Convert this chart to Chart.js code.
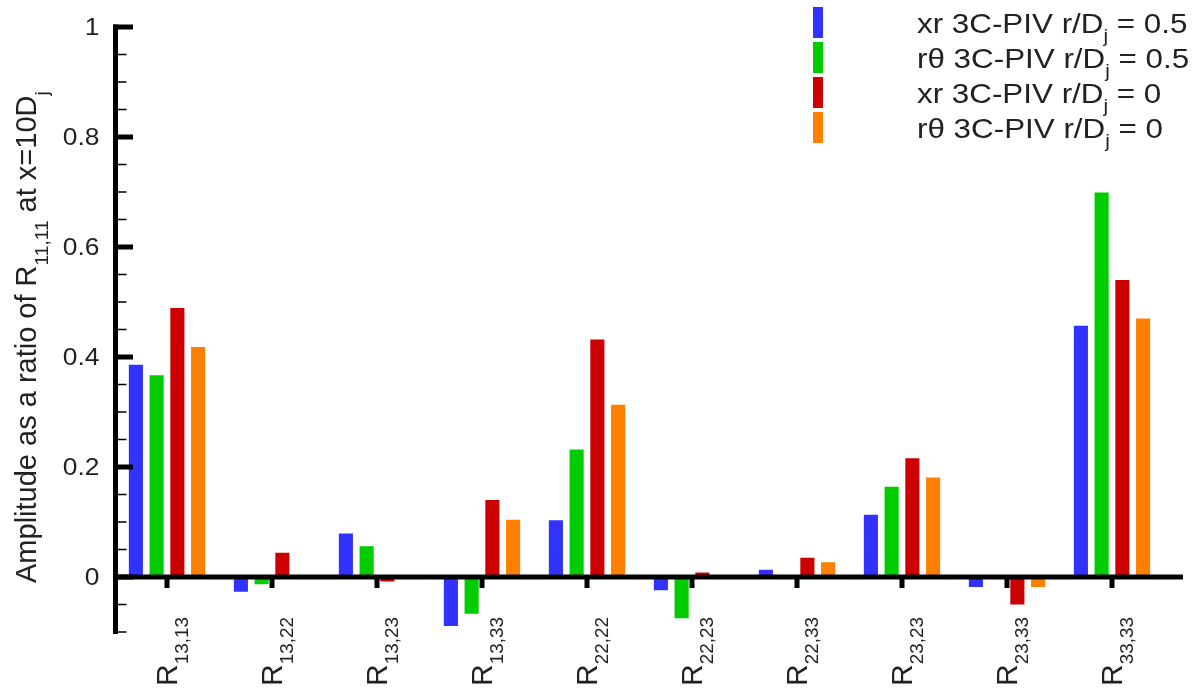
<!DOCTYPE html>
<html>
<head>
<meta charset="utf-8">
<script src="https://cdn.jsdelivr.net/npm/chart.js@4.4.0/dist/chart.umd.min.js"></script>
<style>
  html, body { margin: 0; padding: 0; background: #fff; }
</style>
</head>
<body>
<canvas id="barChart" width="1202" height="691"></canvas>
<script>
// Reynolds stress components (x axis)
const components = ['R_{13,13}', 'R_{13,22}', 'R_{13,23}', 'R_{13,33}', 'R_{22,22}',
                    'R_{22,23}', 'R_{22,33}', 'R_{23,23}', 'R_{23,33}', 'R_{33,33}'];

const seriesNames = ['xr 3C-PIV r/D_{j} = 0.5', 'rθ 3C-PIV r/D_{j} = 0.5',
                     'xr 3C-PIV r/D_{j} = 0', 'rθ 3C-PIV r/D_{j} = 0'];
const seriesColors = ['#3232ff', '#00cc00', '#cc0000', '#ff8000'];

// amplitudes
const xrHalf   = [0.386, -0.027,  0.079, -0.089, 0.103, -0.024, 0.013, 0.113, -0.018, 0.457];
const rthHalf  = [0.367, -0.013,  0.056, -0.067, 0.232, -0.075, null,  0.164, null,   0.699];
const xrZero   = [0.489,  0.044, -0.008,  0.140, 0.432,  0.008, 0.035, 0.216, -0.050, 0.540];
const rthZero  = [0.418,  null,   null,   0.104, 0.313,  null,  0.027, 0.181, -0.018, 0.470];

const yTickValues = [0, 0.2, 0.4, 0.6, 0.8, 1];
const yTickLabels = ['0', '0.2', '0.4', '0.6', '0.8', '1'];
const yTitle = 'Amplitude as a ratio of R_{11,11} at x=10D_{j}';

const FONT = '"Liberation Sans", Arial, Helvetica, sans-serif';

// draw text with _{...} subscripts, returns width
function drawRich(ctx, text, x, y, size, subScale, drop) {
    const parts = text.split(/_\{([^}]*)\}/);
    let cx = x;
    parts.forEach((p, i) => {
        const sub = i % 2 === 1;
        ctx.font = (sub ? size * subScale : size) + 'px ' + FONT;
        ctx.fillText(p, cx, y + (sub ? drop : 0));
        cx += ctx.measureText(p).width;
    });
    return cx - x;
}

const axesPlugin = {
    id: 'axesPlugin',
    afterDatasetsDraw(chart) {
        const ctx = chart.ctx;
        const ys = chart.scales.y;
        const xs = chart.scales.x;
        const area = chart.chartArea;
        const y0 = ys.getPixelForValue(0);
        const ax = area.left + 1;
        ctx.save();
        ctx.fillStyle = '#000';

        // y axis line
        const yTop = ys.getPixelForValue(1) - 2.5;
        const yBot = ys.getPixelForValue(-0.1) + 2;
        ctx.fillRect(ax - 2.5, yTop, 5, yBot - yTop);

        // minor ticks every 0.05
        for (let k = -2; k <= 20; k++) {
            if (k >= 0 && k % 4 === 0) continue;
            const py = ys.getPixelForValue(k * 0.05);
            ctx.fillRect(ax + 2, py - 0.75, 9, 1.5);
        }
        // major ticks + labels
        ctx.textAlign = 'right';
        ctx.textBaseline = 'middle';
        ctx.font = '24px ' + FONT;
        yTickValues.forEach((v, i) => {
            const py = ys.getPixelForValue(v);
            ctx.fillStyle = '#000';
            ctx.fillRect(ax - 2.5, py - 2.5, 20, 5);
            ctx.fillStyle = '#222';
            ctx.save();
            ctx.translate(ax - 16, py + 1);
            ctx.scale(1.1, 1);
            ctx.fillText(yTickLabels[i], 0, 0);
            ctx.restore();
        });

        // zero line
        ctx.fillStyle = '#000';
        ctx.fillRect(ax - 2.5, y0 - 2.5, area.right + 21 - ax, 5);

        // x ticks and rotated labels
        ctx.textAlign = 'left';
        ctx.textBaseline = 'alphabetic';
        components.forEach((c, i) => {
            const px = xs.getPixelForValue(i);
            ctx.fillStyle = '#000';
            ctx.fillRect(px - 2.5, y0, 5, 11);
            ctx.save();
            ctx.translate(px + 10, 686);
            ctx.rotate(-Math.PI / 2);
            ctx.fillStyle = '#222';
            drawRich(ctx, c, 0, 0, 30, 0.63, 11);
            ctx.restore();
        });

        // y title
        ctx.save();
        ctx.translate(36, 583);
        ctx.rotate(-Math.PI / 2);
        ctx.fillStyle = '#222';
        drawRich(ctx, yTitle, 0, 0, 29, 0.66, 12);
        ctx.restore();

        // legend
        chart.data.datasets.forEach((ds, i) => {
            const base = 33 + i * 35;
            ctx.fillStyle = ds.backgroundColor;
            ctx.fillRect(813, base - 26, 10, 31);
            ctx.save();
            ctx.translate(917, base);
            ctx.scale(1.12, 1);
            ctx.fillStyle = '#222';
            drawRich(ctx, seriesNames[i], 0, 0, 28, 0.66, 9);
            ctx.restore();
        });
        ctx.restore();
    }
};

const ctx = document.getElementById('barChart').getContext('2d');
window.myChart = new Chart(ctx, {
    type: 'bar',
    data: {
        labels: components,
        datasets: [xrHalf, rthHalf, xrZero, rthZero].map((vals, i) => ({
            label: seriesNames[i],
            data: vals,
            backgroundColor: seriesColors[i],
            borderWidth: 0,
            categoryPercentage: 0.79,
            barPercentage: 0.68
        }))
    },
    options: {
        responsive: false,
        animation: false,
        layout: {
            padding: { left: 114.5, right: 37.5, top: 27, bottom: 59 }
        },
        plugins: {
            legend: { display: false },
            tooltip: { enabled: false },
            title: { display: false }
        },
        scales: {
            x: { display: false },
            y: { display: false, min: -0.1, max: 1 }
        }
    },
    plugins: [axesPlugin]
});
</script>
</body>
</html>
